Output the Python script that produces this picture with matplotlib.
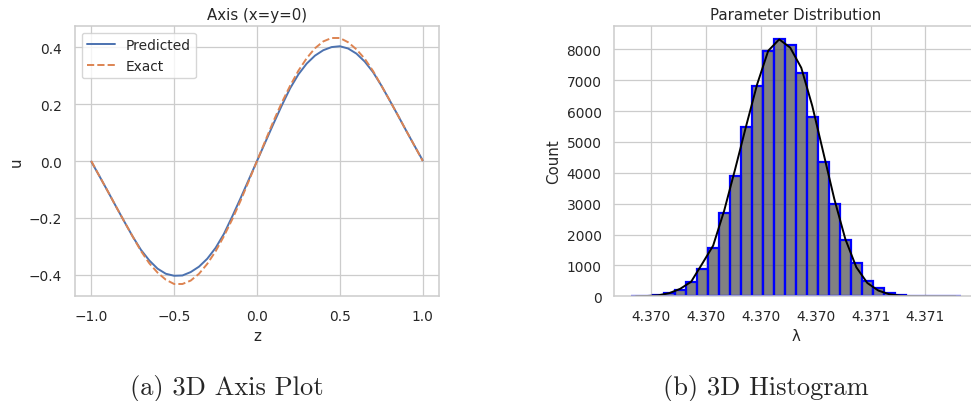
import numpy as np
import matplotlib
matplotlib.use("Agg")
import matplotlib.pyplot as plt
import seaborn as sns
from matplotlib.ticker import MultipleLocator, FormatStrFormatter

# --- axis profile along x=y=0 ---
z = np.linspace(-1.0, 1.0, 41)
u_exact_pos = [0.000, 0.071, 0.141, 0.206, 0.265, 0.318, 0.362, 0.397, 0.421, 0.433,
               0.433, 0.418, 0.393, 0.360, 0.317, 0.266, 0.214, 0.161, 0.107, 0.054, 0.000]
u_pred_pos = [0.000, 0.066, 0.132, 0.196, 0.256, 0.305, 0.343, 0.371, 0.390, 0.401,
              0.404, 0.396, 0.378, 0.350, 0.313, 0.266, 0.214, 0.161, 0.107, 0.054, 0.002]
u_pred_neg = [-0.002, -0.054, -0.107, -0.161, -0.214, -0.266, -0.313, -0.350, -0.379, -0.397,
              -0.404, -0.403, -0.391, -0.372, -0.344, -0.306, -0.257, -0.196, -0.132, -0.066]
u_exact = [-v for v in u_exact_pos[:0:-1]] + u_exact_pos
u_pred = u_pred_neg + u_pred_pos

# --- posterior samples of lambda, binned ---
bin_lo = 4.369724
bin_width = 0.0000402
counts = [10, 25, 50, 110, 215, 470, 900, 1570, 2690, 3900,
          5480, 6810, 7935, 8345, 8150, 7235, 5800, 4335, 2985, 1835,
          1070, 505, 260, 100, 45, 20, 10, 5, 3, 2]
kde = [3, 10, 30, 100, 240, 470, 1050, 1640, 2770, 4120,
       5520, 6870, 7950, 8320, 8050, 7400, 6165, 4660, 3150, 1855,
       940, 430, 185, 65, 20, 6, 2, 1, 0, 0]

sns.set_theme(style="whitegrid")
plt.rcParams.update({
    "font.family": ["DejaVu Sans"],
    "axes.titlesize": 10.8,
    "axes.labelsize": 10.8,
    "xtick.labelsize": 9.9,
    "ytick.labelsize": 9.9,
    "legend.fontsize": 9.9,
    "xtick.major.size": 0,
    "ytick.major.size": 0,
    "xtick.major.pad": 9,
    "ytick.major.pad": 9,
    "axes.titlepad": 5,
    "axes.labelpad": 4,
    "grid.linewidth": 0.9,
    "axes.linewidth": 1.1,
})

W, H = 971, 402
fig = plt.figure(figsize=(W / 100, H / 100), dpi=100)


def box(x0, x1, y0, y1):
    return [x0 / W, 1 - y1 / H, (x1 - x0) / W, (y1 - y0) / H]


# left: predicted vs exact
ax1 = fig.add_axes(box(74.7, 439.3, 26.7, 297.3))
ax1.plot(z, u_pred, color="#4C72B0", lw=1.4, label="Predicted")
ax1.plot(z, u_exact, color="#DD8452", lw=1.4, ls="--", label="Exact")
ax1.set_title("Axis (x=y=0)")
ax1.set_xlabel("z")
ax1.set_ylabel("u")
ax1.set_xticks([-1.0, -0.5, 0.0, 0.5, 1.0])
ax1.set_yticks([-0.4, -0.2, 0.0, 0.2, 0.4])
ax1.legend(loc="upper left")

# right: histogram of lambda
ax2 = fig.add_axes(box(614, 977.5, 26.7, 297.3))
edges = bin_lo + bin_width * np.arange(len(counts) + 1)
centers = edges[:-1] + bin_width / 2
ax2.bar(edges[:-1], counts, width=bin_width, align="edge",
        facecolor=(0.34, 0.34, 0.34, 0.75), edgecolor="blue", linewidth=1.6)
ax2.plot(centers, kde, color="black", lw=1.4)
ax2.xaxis.set_major_locator(MultipleLocator(0.0002))
ax2.xaxis.set_major_formatter(FormatStrFormatter("%.3f"))
ax2.set_yticks(range(0, 8001, 1000))
ax2.set_title("Parameter Distribution")
ax2.set_xlabel("λ")
ax2.set_ylabel("Count")

fig.text(227 / W, 7 / H, "(a) 3D Axis Plot", family="cmr10", fontsize=19,
         ha="center", va="baseline")
fig.text(766 / W, 7 / H, "(b) 3D Histogram", family="cmr10", fontsize=19,
         ha="center", va="baseline")

fig.savefig("out.png", dpi=100)
